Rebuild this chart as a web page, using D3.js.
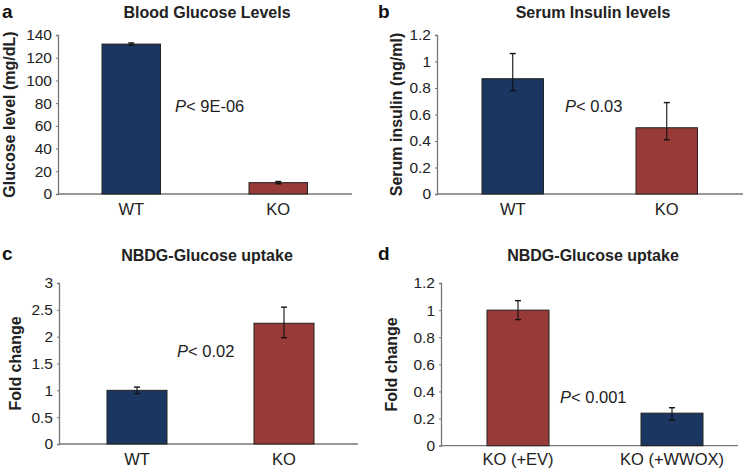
<!DOCTYPE html>
<html><head><meta charset="utf-8">
<script src="https://cdn.jsdelivr.net/npm/d3@7"></script>
<style>body{margin:0;background:#fff}svg{display:block}text{font-family:"Liberation Sans",Arial,sans-serif}</style>
</head><body><svg id="c" width="750" height="470"></svg>
<script>
// Panel a
const aCategories = ["WT", "KO"];
const aValues = [132, 10];
const aErrLow = [131, 9];
const aErrHigh = [133, 11];
const aTicks = [0, 20, 40, 60, 80, 100, 120, 140];
// Panel b
const bCategories = ["WT", "KO"];
const bValues = [0.87, 0.50];
const bErrLow = [0.78, 0.41];
const bErrHigh = [1.06, 0.69];
const bTicks = [0, 0.2, 0.4, 0.6, 0.8, 1, 1.2];
// Panel c
const cCategories = ["WT", "KO"];
const cValues = [1.0, 2.25];
const cErrLow = [0.94, 1.98];
const cErrHigh = [1.06, 2.55];
const cTicks = [0, 0.5, 1, 1.5, 2, 2.5, 3];
// Panel d
const dCategories = ["KO (+EV)", "KO (+WWOX)"];
const dValues = [1.0, 0.24];
const dErrLow = [0.93, 0.19];
const dErrHigh = [1.07, 0.28];
const dTicks = [0, 0.2, 0.4, 0.6, 0.8, 1, 1.2];

const NAVY = "#1b3660", RED = "#983a37";
const svg = d3.select("#c");

const panels = [
  {letter:"a", title:"Blood Glucose Levels", ylab:"Glucose level (mg/dL)", cats:aCategories, vals:aValues, lo:aErrLow, hi:aErrHigh, ticks:aTicks, max:140,
   colors:[NAVY,RED], x0:58, x1:352, y0:194, y1:35, bars:[[102,161],[249,307]], titleX:207, titleY:18, letterX:2, letterY:17.5, ylabX:15, p:"< 9E-06", px:175, py:112, xlabY:215},
  {letter:"b", title:"Serum Insulin levels", ylab:"Serum insulin (ng/ml)", cats:bCategories, vals:bValues, lo:bErrLow, hi:bErrHigh, ticks:bTicks, max:1.2,
   colors:[NAVY,RED], x0:437, x1:743, y0:194, y1:35, bars:[[482,544],[636,697]], titleX:593, titleY:18, letterX:378, letterY:17.5, ylabX:402, p:"< 0.03", px:565, py:112, xlabY:215},
  {letter:"c", title:"NBDG-Glucose uptake", ylab:"Fold change", cats:cCategories, vals:cValues, lo:cErrLow, hi:cErrHigh, ticks:cTicks, max:3,
   colors:[NAVY,RED], x0:59, x1:358, y0:444, y1:283, bars:[[107,167],[254,314]], titleX:207, titleY:261, letterX:2, letterY:260, ylabX:21, p:"< 0.02", px:177, py:357, xlabY:465},
  {letter:"d", title:"NBDG-Glucose uptake", ylab:"Fold change", cats:dCategories, vals:dValues, lo:dErrLow, hi:dErrHigh, ticks:dTicks, max:1.2,
   colors:[RED,NAVY], x0:441, x1:738, y0:445.7, y1:283, bars:[[487,549],[641,703]], titleX:593, titleY:261, letterX:378, letterY:260, ylabX:397, p:"< 0.001", px:560, py:403, xlabY:465}
];

panels.forEach(P => {
  const g = svg.append("g");
  const y = d3.scaleLinear().domain([0, P.max]).range([P.y0, P.y1]);
  const bw = (P.bars[0][1]-P.bars[0][0] + P.bars[1][1]-P.bars[1][0])/2;
  const step = P.bars[1][0]-P.bars[0][0];
  const xb = d3.scalePoint().domain(P.cats).range([P.bars[0][0]+bw/2, P.bars[0][0]+bw/2+step]);

  // y axis
  const ya = d3.axisLeft(y).tickValues(P.ticks).tickSize(2).tickPadding(4).tickFormat(d => d3.format("~g")(d));
  const yg = g.append("g").attr("transform", `translate(${P.x0},0)`).call(ya);
  yg.select(".domain").attr("stroke", "#777").attr("stroke-width", 1.3);
  yg.selectAll(".tick line").attr("stroke", "#777");
  yg.selectAll(".tick text").attr("font-size", 15.5).attr("fill", "#222").attr("font-family", "Liberation Sans, Arial, sans-serif");

  // x axis line
  g.append("line").attr("x1", P.x0).attr("x2", P.x1).attr("y1", y(0)).attr("y2", y(0))
    .attr("stroke", "#777").attr("stroke-width", 1.3);

  // bars
  g.selectAll("rect.bar").data(P.vals).enter().append("rect")
    .attr("x", (d,i) => xb(P.cats[i]) - bw/2)
    .attr("width", bw)
    .attr("y", d => y(d))
    .attr("height", d => y(0) - y(d))
    .attr("fill", (d,i) => P.colors[i])
    .attr("stroke", "#222").attr("stroke-width", 1);

  // error bars
  P.vals.forEach((v,i) => {
    const cx = xb(P.cats[i]);
    g.append("line").attr("x1", cx).attr("x2", cx).attr("y1", y(P.hi[i])).attr("y2", y(P.lo[i])).attr("stroke", "#111").attr("stroke-width", 1.1);
    [P.hi[i], P.lo[i]].forEach(e => g.append("line").attr("x1", cx-3).attr("x2", cx+3).attr("y1", y(e)).attr("y2", y(e)).attr("stroke", "#111").attr("stroke-width", 1.4));
  });

  // x labels
  P.cats.forEach(c => g.append("text").attr("x", xb(c)).attr("y", P.xlabY).attr("text-anchor", "middle")
    .attr("font-size", 16.5).attr("fill", "#222").text(c));

  // title
  g.append("text").attr("x", P.titleX).attr("y", P.titleY).attr("text-anchor", "middle")
    .attr("font-size", 16).attr("font-weight", "bold").attr("fill", "#222").text(P.title);
  // letter
  g.append("text").attr("x", P.letterX).attr("y", P.letterY).attr("font-size", 19).attr("font-weight", "bold").attr("fill", "#111").text(P.letter);
  // y label
  const ymid = (P.y0 + P.y1)/2;
  g.append("text").attr("transform", `translate(${P.ylabX},${ymid}) rotate(-90)`).attr("text-anchor", "middle")
    .attr("font-size", 16).attr("font-weight", "bold").attr("fill", "#222").text(P.ylab);
  // p value
  const pt = g.append("text").attr("x", P.px).attr("y", P.py).attr("font-size", 16.5).attr("fill", "#222");
  pt.append("tspan").attr("font-style", "italic").text("P");
  pt.append("tspan").text(P.p);
});
</script></body></html>
